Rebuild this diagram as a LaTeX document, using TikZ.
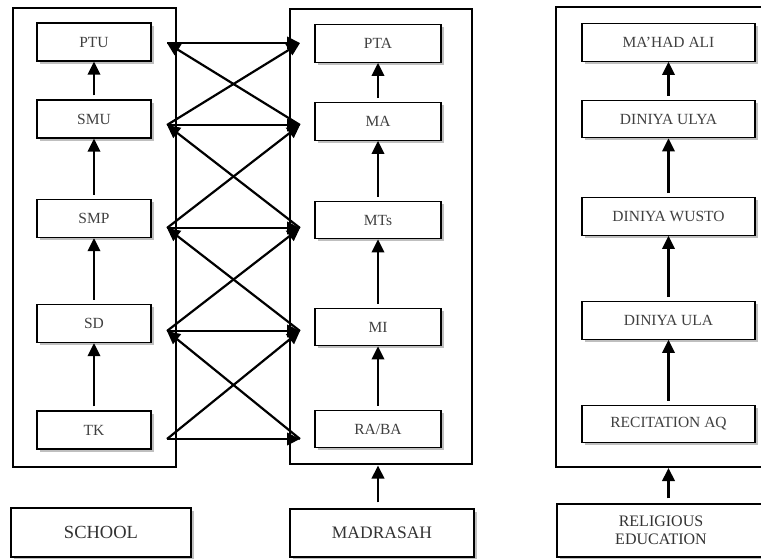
\documentclass[tikz,border=0pt]{standalone}
\usepackage{fontspec}
\setmainfont{Liberation Serif}
\usetikzlibrary{arrows.meta,shadows}
\begin{document}
\begin{tikzpicture}[x=1pt,y=-1pt,
  lvl/.style={draw=black, line width=1.3pt, fill=white, inner sep=0pt,
    text=black!75, font=\fontsize{15.5}{17}\selectfont,
    drop shadow={shadow xshift=2.5pt, shadow yshift=-2.5pt, opacity=0.25, fill=black}},
  lcol/.style={lvl, minimum width=114pt, minimum height=38pt},
  mcol/.style={lvl, minimum width=126pt, minimum height=37.5pt},
  rcol/.style={lvl, minimum width=173pt, minimum height=37.5pt},
  frame/.style={draw=black, line width=1.2pt},
  base/.style={lvl, text=black!80, align=center},
  arr/.style={-{Triangle[length=13pt,width=12.5pt]}, line width=2.1pt},
  xarr/.style={-{Triangle[length=13pt,width=12.5pt]}, line width=2.2pt}
]
\useasboundingbox (0,0) rectangle (761,558);

% containers
\draw[frame] (13,8) rectangle (176,467);
\draw[frame] (290,9) rectangle (472,464);
\draw[frame] (556,7) rectangle (768,467);
\coordinate (schoolframe) at (94.5,467);
\coordinate (midframe) at (381,464);
\coordinate (relframe) at (668.5,467);

% left column (school)
\node[lcol] (PTU) at (94,42) {PTU};
\node[lcol] (SMU) at (94,119) {SMU};
\node[lcol] (SMP) at (94,218.5) {SMP};
\node[lcol] (SD)  at (94,323.5) {SD};
\node[lcol] (TK)  at (94,430) {TK};

% middle column (madrasah)
\node[mcol] (PTA) at (378,43.5) {PTA};
\node[mcol] (MA)  at (378,121.5) {MA};
\node[mcol] (MTs) at (378,220) {MTs};
\node[mcol] (MI)  at (378,327) {MI};
\node[mcol] (RA)  at (378,429) {RA/BA};

% right column (religious)
\node[rcol] (MAH)  at (668.5,42.5) {MA'HAD ALI};
\node[rcol] (ULYA) at (668.5,119) {DINIYA ULYA};
\node[rcol] (WUS)  at (668.5,216.5) {DINIYA WUSTO};
\node[rcol] (ULA)  at (668.5,320.5) {DINIYA ULA};
\node[rcol] (REC)  at (668.5,424) {RECITATION AQ};

% bottom labels
\node[base, minimum width=180pt, minimum height=49pt, font=\fontsize{18.5}{20}\selectfont] (school) at (101,532.5) {SCHOOL};
\node[base, minimum width=184pt, minimum height=48pt, font=\fontsize{17.5}{19}\selectfont] (madbox) at (382,533) {MADRASAH};
\node[base, minimum width=208pt, minimum height=53pt, font=\fontsize{16}{17.5}\selectfont] (relbox) at (661,530.5) {RELIGIOUS\\EDUCATION};

% vertical arrows within columns
\foreach \a/\b in {SMU/PTU, SMP/SMU, SD/SMP, TK/SD, MA/PTA, MTs/MA, MI/MTs, RA/MI, ULYA/MAH, WUS/ULYA, ULA/WUS, REC/ULA}
  \draw[arr, shorten <=4pt] (\a.north) -- (\b.south);

% arrows from bottom boxes
\draw[arr, shorten <=6pt, shorten >=1.5pt] (madbox.north -| PTA.south) -- (midframe -| PTA.south);
\draw[arr, shorten <=5pt, shorten >=1pt] (relbox.north -| ULA.south) -- (relframe -| ULA.south);

% connector ends between school and madrasah
\coordinate (L1) at (167,43);
\coordinate (L2) at (167,125);
\coordinate (L3) at (167,228);
\coordinate (L4) at (167,331);
\coordinate (L5) at (167,439);
\coordinate (R1) at (300,43);
\coordinate (R2) at (300,125);
\coordinate (R3) at (300,228);
\coordinate (R4) at (300,331);
\coordinate (R5) at (300,439);

\foreach \i in {1,...,5}
  \draw[xarr] (L\i) -- (R\i);
\foreach \i/\j in {1/2, 2/3, 3/4, 4/5} {
  \draw[xarr] (L\j) -- (R\i);
  \draw[xarr] (R\j) -- (L\i);
}
\end{tikzpicture}
\end{document}
